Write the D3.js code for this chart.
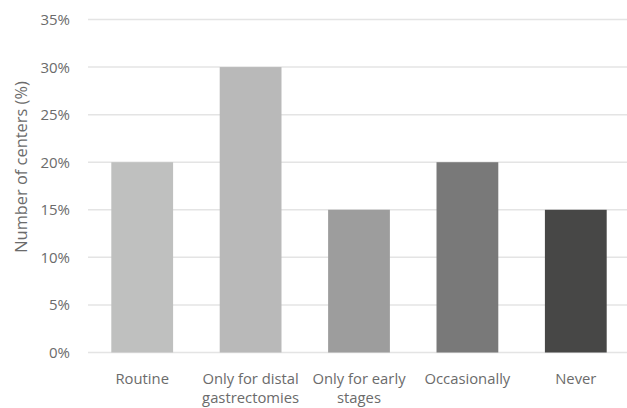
<!DOCTYPE html>
<html><head><meta charset="utf-8">
<script src="https://cdn.jsdelivr.net/npm/d3@7"></script>
<style>body{margin:0;background:#fff}svg{display:block}text{font-family:"Open Sans","Noto Sans",sans-serif}</style>
</head><body><svg id="c" width="627" height="408"></svg>
<script>
const categories = ["Routine","Only for distal gastrectomies","Only for early stages","Occasionally","Never"];
const labelLines = [["Routine"],["Only for distal","gastrectomies"],["Only for early","stages"],["Occasionally"],["Never"]];
const values = [20,30,15,20,15];
const colors = ["#bfc0bf","#b9b9b9","#9d9d9d","#797979","#474746"];
const yTicks = [0,5,10,15,20,25,30,35];

const svg = d3.select("#c");
const x = d3.scaleBand().domain(categories).range([88,630]).paddingInner(0.43).paddingOuter(0.215);
const y = d3.scaleLinear().domain([0,35]).range([352.5,19.5]);

const g = svg.append("g");
g.selectAll("line.grid").data(yTicks).join("line")
  .attr("x1",88).attr("x2",627).attr("y1",d=>y(d)).attr("y2",d=>y(d))
  .attr("stroke","#e4e4e4").attr("stroke-width",1.5);

g.selectAll("rect").data(values).join("rect")
  .attr("x",(d,i)=>x(categories[i])).attr("width",x.bandwidth())
  .attr("y",d=>y(d)).attr("height",d=>y(0)-y(d))
  .attr("fill",(d,i)=>colors[i]);

g.selectAll("text.yt").data(yTicks).join("text")
  .attr("x",70).attr("y",d=>y(d)+5.5).attr("text-anchor","end")
  .attr("font-size",15).attr("fill","#6b6b6b").text(d=>d+"%");

const xl = g.selectAll("text.xl").data(categories).join("text")
  .attr("text-anchor","middle").attr("font-size",14.8).attr("fill","#6b6b6b")
  .attr("transform",d=>`translate(${x(d)+x.bandwidth()/2},384)`);
xl.each(function(d,i){
  d3.select(this).selectAll("tspan").data(labelLines[i]).join("tspan")
    .attr("x",0).attr("dy",(t,j)=>j===0?0:19).text(t=>t);
});

g.append("text").attr("transform","translate(27,167) rotate(-90)")
  .attr("text-anchor","middle").attr("font-size",16.4).attr("fill","#6b6b6b")
  .text("Number of centers (%)");
</script></body></html>
